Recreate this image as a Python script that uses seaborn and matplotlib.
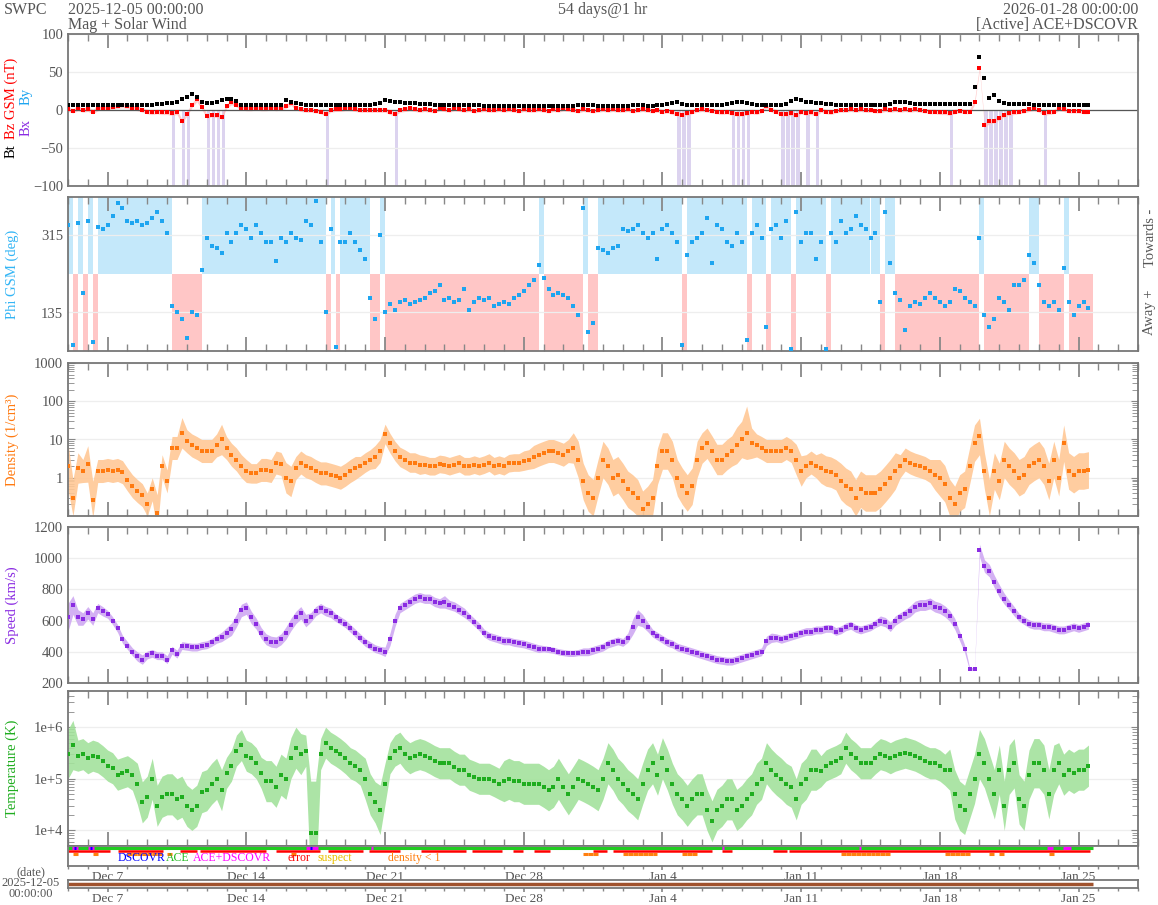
import numpy as np
import pandas as pd
import matplotlib.pyplot as plt
import matplotlib.dates as mdates
from matplotlib.ticker import FuncFormatter, LogLocator, NullFormatter
import seaborn as sns

# values, one every 6 hours from 2025-12-05 00:00
bt = [7, 7, 6, 7, 6, 6, 6, 7,  7, 6, 6, 7, 7, 6, 6, 6,
      7, 7, 8, 8, 9, 9, 10, 14,  17, 21, 17, 11, 9, 9, 11, 13,
      14, 15, 12, 7, 6, 6, 6, 6,  6, 6, 6, 6, 13, 11, 9, 8,
      7, 7, 6, 6, 6, 6, 6, 6,  6, 6, 6, 6, 6, 7, 8, 9,
      13, 12, 11, 10, 9, 9, 9, 8,  8, 8, 7, 7, 7, 7, 7, 6,
      6, 6, 6, 6, 5, 5, 5, 5,  5, 5, 5, 5, 5, 5, 5, 5,
      5, 5, 5, 5, 5, 5, 5, 6,  6, 6, 6, 5, 5, 5, 5, 5,
      5, 5, 6, 6, 6, 5, 5, 6,  7, 8, 9, 10, 8, 7, 6, 6,
      6, 6, 6, 6, 7, 8, 9, 10,  10, 9, 8, 7, 7, 7, 7, 7,
      7, 8, 12, 15, 13, 11, 10, 9,  9, 8, 8, 7, 7, 7, 6, 6,
      6, 6, 6, 6, 6, 7, 8, 10,  11, 10, 9, 8, 8, 8, 8, 8,
      8, 8, 8, 8, 8, 8, 8, 30,  70, 42, 16, 20, 12, 9, 8, 8,
      8, 8, 8, 7, 7, 7, 7, 7,  7, 7, 7, 7, 7, 7, 7]
bz = [1, -1, 2, 0, 1, -2, 2, 3,  3, 4, 5, 6, 5, 3, 2, 0,
      -2, -3, -2, -3, -3, -4, -3, -15,  -5, 6, 14, 4, -8, -6, -7, -9,
      5, 10, 7, 3, 2, 2, 3, 2,  2, 3, 2, 3, 5, 9, 3, 1,
      0, 0, -1, -2, -5, 0, 1, 1,  2, 2, 1, 0, 0, 0, 0, 0,
      0, -3, -5, 0, 1, 2, 1, 0,  1, 0, -1, 2, 1, 0, 2, 1,
      0, 1, -1, 0, 1, 0, 0, 1,  0, 1, 0, -1, 1, 0, 0, 1,
      0, -1, 1, 0, 2, 1, 0, -1,  1, 0, -1, 0, 1, 0, 1, 0,
      0, 1, -1, 0, 1, 0, -1, 0,  -2, -1, -3, -5, -6, -4, -2, 0,
      1, 0, -1, -2, -3, -2, -4, -5,  -5, -4, -2, -3, -1, 5, 0, -2,
      -5, -5, -4, -7, -2, -4, -3, -5,  0, -2, -3, -1, 0, 0, 1, 0,
      1, 0, 0, -1, -1, 1, 0, 1,  0, 1, 0, 1, 0, -1, -2, -2,
      -3, -3, -4, -2, -1, -2, -2, 10,  55, -20, -15, -14, -10, -6, -4, -3,
      -2, -1, 1, 2, 0, -4, -3, -2,  2, 1, -1, -1, -1, -2, -2]
phi = [340, 60, 345, 180, 350, 65, 335, 330,  340, 360, 390, 380, 350, 345, 350, 340,
       345, 355, 370, 350, 320, 150, 135, 120,  75, 135, 130, 235, 310, 290, 285, 275,
       320, 300, 320, 340, 330, 310, 340, 320,  300, 300, 255, 310, 300, 320, 310, 305,
       350, 340, 395, 300, 135, 330, 55, 300,  300, 320, 300, 280, 260, 170, 120, 315,
       135, 155, 140, 160, 165, 155, 160, 165,  170, 180, 185, 200, 165, 170, 160, 165,
       190, 140, 160, 170, 165, 170, 150, 155,  160, 155, 170, 175, 185, 200, 210, 245,
       215, 190, 175, 180, 175, 170, 150, 130,  380, 90, 110, 285, 280, 275, 285, 290,
       330, 325, 330, 340, 320, 310, 320, 260,  330, 340, 320, 300, 60, 270, 300, 310,
       320, 355, 250, 340, 330, 300, 290, 320,  300, 70, 320, 340, 310, 100, 330, 340,
       310, 350, 50, 370, 300, 320, 320, 260,  300, 50, 320, 300, 350, 320, 330, 360,
       340, 330, 310, 320, 160, 370, 250, 180,  165, 95, 150, 160, 155, 170, 180, 170,
       160, 150, 160, 190, 185, 170, 160, 150,  310, 130, 100, 120, 170, 160, 140, 200,
       200, 210, 270, 250, 200, 160, 150, 160,  140, 240, 160, 130, 150, 160, 145]
density = [2.0, 0.3, 1.8, 1.5, 2.3, 0.27, 1.5, 1.5,  1.6, 1.5, 1.6, 1.4, 0.9, 0.6, 0.45, 0.35,
           0.2, 0.5, 0.12, 2.0, 0.8, 6.0, 6.0, 15,  9, 7, 6, 5, 5, 5, 7, 10,
           6, 4, 3, 2, 1.5, 1.3, 1.3, 1.6,  1.6, 1.5, 2.5, 2.3, 1.0, 0.8, 1.8, 2.5,
           2.0, 1.8, 1.5, 1.3, 1.3, 1.2, 1.1, 1.0,  1.2, 1.5, 1.8, 2.0, 2.5, 3.0, 3.5, 5,
           14, 8, 5, 3.5, 3, 2.5, 2.5, 2.2,  2.2, 2.0, 2.0, 2.3, 2.2, 2.0, 2.2, 2.4,
           2.0, 2.0, 2.2, 2.0, 2.2, 2.5, 2.0, 2.2,  2.0, 2.4, 2.5, 2.5, 2.8, 3.0, 3.5, 4,
           4.5, 5, 5, 4.5, 4, 5, 6, 3,  0.8, 0.4, 0.3, 1.0, 3.0, 2.0, 1.0, 1.2,
           0.8, 0.5, 0.4, 0.3, 0.15, 0.2, 0.3, 2.0,  5, 5, 3, 1.0, 0.6, 0.4, 0.6, 3,
           6, 8, 5, 3, 3, 4, 5, 7,  10, 15, 8, 7, 6, 5, 5, 5,
           5, 6, 5, 3, 1.5, 2, 2.5, 2.0,  1.8, 1.5, 1.4, 1.2, 0.8, 0.6, 0.5, 0.3,
           0.5, 0.4, 0.4, 0.4, 0.5, 0.7, 1.0, 1.5,  2.0, 3.0, 2.5, 2.2, 2.0, 1.8, 1.5, 1.2,
           1.0, 0.7, 0.3, 0.2, 0.4, 0.5, 2.0, 8,  12, 1.5, 0.3, 1.5, 0.8, 3, 2, 1.5,
           1.0, 1.2, 2.0, 2.5, 3.0, 2.0, 0.8, 3.0,  1.0, 8, 1.5, 1.2, 1.5, 1.5, 1.6]
dens_spread = [4, 3, 2.5, 2, 3, 3, 2, 2,  2, 2, 2, 2, 2, 2, 2, 2,
               2, 2, 3, 2, 2, 2, 2, 2.5,  2, 2, 2, 2, 2, 2, 2, 2.5,
               2, 2, 2, 2, 2, 1.8, 1.8, 2,  2, 2, 2, 2, 2.5, 2.5, 2, 2,
               2, 2, 2, 2, 2, 2, 2, 2,  2, 2, 2, 1.8, 1.8, 1.8, 2, 2,
               1.8, 1.8, 1.8, 1.8, 1.8, 1.8, 1.8, 1.8,  1.7, 1.7, 1.7, 1.7, 1.7, 1.7, 1.7, 1.7,
               1.7, 1.7, 1.7, 1.7, 1.7, 1.7, 1.7, 1.7,  1.7, 1.7, 1.7, 1.7, 1.8, 1.8, 2, 2,
               2, 2, 2, 2, 2, 2, 2.5, 3,  3, 3, 3, 3, 3, 3, 3, 3,
               3, 3, 3, 3, 3, 3, 3, 3,  3, 3, 3, 3, 3, 3, 3, 3,
               2.5, 2.5, 2.5, 2.5, 2.5, 2.5, 2.5, 3,  3, 5, 2.5, 2, 2, 2, 2, 2,
               2, 2, 2, 2.5, 2.5, 2, 2, 2,  2.5, 2.5, 2.5, 2.5, 3, 3, 3, 3,
               3, 3, 3, 3, 3, 3, 3, 3,  2, 2, 2, 2, 2, 2, 2, 2.5,
               3, 3, 3, 3, 3, 3, 3, 3,  3, 3, 3, 3, 3, 3, 3, 3,
               3, 3, 3, 3, 3, 3, 3, 3,  3, 3, 3, 3, 3, 3, 3]
speed = [620, 700, 620, 610, 650, 610, 680, 660,  640, 600, 550, 480, 440, 400, 370, 350,
         380, 390, 375, 375, 350, 410, 385, 440,  435, 430, 430, 440, 445, 460, 480, 495,
         520, 545, 600, 665, 680, 620, 580, 520,  480, 465, 460, 480, 520, 575, 620, 650,
         600, 620, 660, 680, 660, 650, 620, 600,  580, 550, 520, 490, 460, 440, 420, 410,
         400, 480, 600, 680, 700, 720, 740, 750,  740, 740, 720, 710, 720, 700, 690, 670,
         650, 620, 590, 560, 520, 500, 490, 480,  470, 470, 460, 455, 450, 440, 430, 420,
         420, 415, 410, 400, 395, 390, 390, 395,  400, 400, 410, 420, 430, 450, 460, 470,
         460, 490, 560, 620, 600, 560, 520, 500,  480, 460, 450, 430, 420, 410, 400, 390,
         380, 370, 360, 350, 345, 340, 340, 350,  360, 370, 380, 390, 400, 470, 490, 490,
         480, 490, 500, 510, 520, 530, 530, 540,  540, 550, 550, 530, 540, 560, 570, 550,
         540, 550, 560, 580, 600, 590, 560, 600,  620, 640, 660, 690, 700, 700, 710, 690,
         680, 660, 630, 580, 500, 420, 290, 290,  1050, 950, 920, 850, 790, 740, 700, 660,
         620, 600, 580, 570, 570, 560, 560, 550,  540, 540, 550, 560, 550, 560, 570]
speed_spread = [90, 60, 50, 40, 40, 40, 30, 30,  25, 25, 25, 25, 25, 25, 30, 30,
                25, 25, 25, 25, 25, 25, 25, 25,  25, 25, 25, 25, 25, 25, 25, 30,
                35, 40, 40, 40, 40, 40, 35, 35,  35, 35, 35, 35, 40, 40, 40, 40,
                40, 30, 30, 30, 30, 30, 25, 25,  25, 25, 25, 25, 25, 25, 25, 25,
                30, 40, 40, 30, 30, 30, 30, 30,  30, 30, 30, 30, 40, 30, 30, 30,
                30, 25, 25, 25, 25, 25, 25, 25,  25, 25, 25, 25, 25, 25, 25, 25,
                20, 20, 20, 20, 20, 20, 20, 20,  25, 25, 25, 25, 25, 25, 25, 25,
                25, 30, 50, 50, 40, 30, 25, 25,  25, 25, 25, 25, 25, 25, 25, 25,
                25, 25, 25, 25, 25, 25, 25, 25,  25, 25, 25, 25, 25, 30, 30, 25,
                25, 25, 25, 25, 25, 25, 25, 25,  25, 25, 25, 25, 25, 25, 25, 25,
                25, 25, 25, 25, 30, 30, 30, 30,  30, 30, 35, 35, 35, 35, 35, 35,
                35, 35, 35, 35, 30, 25, 10, 10,  40, 40, 40, 40, 40, 35, 30, 30,
                25, 25, 25, 25, 25, 25, 25, 25,  25, 25, 25, 25, 25, 25, 25]
temp_kK = [300, 450, 280, 300, 250, 280, 260, 220,  180, 160, 120, 130, 140, 120, 80, 35,
           45, 100, 30, 45, 50, 50, 40, 45,  30, 25, 30, 55, 60, 80, 100, 60,
           130, 180, 350, 450, 280, 250, 200, 130,  90, 90, 70, 120, 100, 250, 400, 300,
           350, 9, 9, 300, 500, 400, 350, 300,  250, 200, 180, 150, 100, 50, 35, 25,
           80, 250, 350, 400, 300, 250, 280, 300,  280, 250, 220, 200, 200, 200, 170, 150,
           150, 120, 110, 100, 100, 100, 90, 80,  90, 100, 90, 90, 80, 80, 80, 80,
           70, 60, 70, 100, 70, 50, 70, 100,  90, 80, 70, 60, 100, 200, 150, 100,
           80, 60, 50, 40, 80, 150, 200, 120,  250, 150, 80, 50, 40, 30, 40, 50,
           50, 25, 15, 25, 30, 40, 40, 25,  30, 40, 50, 80, 100, 200, 150, 120,
           100, 80, 70, 40, 80, 100, 150, 150,  140, 180, 200, 220, 250, 400, 300, 250,
           200, 200, 200, 250, 300, 280, 250, 280,  300, 320, 300, 280, 250, 220, 200, 200,
           180, 150, 150, 50, 30, 25, 50, 100,  300, 200, 100, 50, 150, 30, 150, 200,
           40, 30, 120, 200, 200, 150, 50, 150,  200, 120, 150, 130, 150, 150, 180]
temp_spread = [3, 3, 2, 2, 2, 2, 2, 2,  2, 2, 2, 2, 2, 2, 2.5, 2.5,
               2.5, 2.5, 2.5, 2.5, 2.5, 2.5, 2.5, 2.5,  2.5, 2.5, 2.5, 2.5, 2.5, 2.5, 2.5, 2.5,
               2, 2, 2, 2, 2, 2, 2, 2,  2.5, 2.5, 2.5, 2.5, 2.5, 2.5, 2.5, 2.5,
               2, 10, 10, 2, 2, 2, 2, 2,  2, 2, 2, 2, 2.5, 2.5, 2.5, 3,
               2.5, 2, 2, 2, 2, 2, 2, 2,  2, 2, 2, 2, 2, 2, 2, 2,
               2, 2, 2, 2, 2, 2, 2, 2,  2.5, 2.5, 2.5, 2.5, 2.5, 2.5, 2.5, 2.5,
               2.5, 2.5, 2.5, 2.5, 2.5, 2.5, 2.5, 2.5,  2.5, 2.5, 2.5, 2.5, 2.5, 2.5, 2.5, 2.5,
               2.5, 2.5, 2.5, 2.5, 2.5, 2.5, 2.5, 2.5,  2.5, 2.5, 2.5, 2.5, 2.5, 2.5, 2.5, 2.5,
               2.5, 2.5, 2.5, 2.5, 2.5, 2.5, 2.5, 2.5,  2.5, 2.5, 2.5, 2.5, 2.5, 2.5, 2.5, 2.5,
               2.5, 2.5, 2.5, 2.5, 2.5, 2.5, 2.5, 2.5,  2, 2, 2, 2, 2, 2, 2, 2,
               2, 2, 2, 2, 2, 2, 2, 2,  2, 2, 2, 2, 2, 2, 2, 2,
               2, 2, 2.5, 3, 3, 3, 3, 3,  3, 3, 3, 3, 3, 3, 3, 3,
               3, 3, 3, 3, 3, 3, 3, 3,  2.5, 2.5, 2.5, 2.5, 2.5, 2.5, 2.5]

# data-quality flags, as (start day, end day) after 2025-12-05
error_days = [(0, 2.1), (2.5, 4.8), (5.65, 6.5), (6.66, 10.0), (10.5, 12.7), (13.1, 14.9),
              (15.2, 16.75), (17.8, 20.1), (20.4, 21.9), (22.45, 22.96), (23.5, 24.3),
              (26.5, 27.2), (27.5, 32.5), (33.0, 33.5), (35.6, 36.3), (36.4, 51.6)]
both_src_days = [(0.2, 0.5), (1.0, 1.3), (12.0, 12.6), (15.3, 15.4), (33.0, 33.1),
                 (39.9, 40.0), (49.4, 49.7), (50.2, 50.6)]
dscovr_days = [(0.3, 0.4), (1.1, 1.2), (12.2, 12.3)]

sns.set_style("white")
plt.rcParams["font.family"] = ["Liberation Serif", "DejaVu Serif"]

W, H = 1158, 905
fig = plt.figure(figsize=(W / 100, H / 100), dpi=100)
GRAY = "#555555"

start = pd.Timestamp("2025-12-05")
end = pd.Timestamp("2026-01-28")
x0, x1 = mdates.date2num(start), mdates.date2num(end)
t = mdates.date2num(pd.date_range(start, periods=len(speed), freq="6h"))
dt = 0.25
weeks = mdates.date2num(pd.date_range("2025-12-07", "2026-01-25", freq="7D"))


def box(top, bottom):
    return [68 / W, 1 - bottom / H, (1138 - 68) / W, (bottom - top) / H]


def day_fmt(v, pos):
    d = mdates.num2date(v)
    return f"{d:%b} {d.day}"


def time_axis(ax, labels=False):
    ax.set_xlim(x0, x1)
    ax.set_xticks(weeks)
    ax.xaxis.set_minor_locator(mdates.DayLocator())
    for s in ax.spines.values():
        s.set_color("#777777")
        s.set_linewidth(1.3)
    if labels:
        ax.xaxis.set_major_formatter(FuncFormatter(day_fmt))
        ax.tick_params(axis="x", which="both", direction="out", bottom=True, top=False,
                       color="#888888", labelsize=9.5, labelcolor=GRAY, pad=0.5)
        ax.tick_params(axis="x", which="major", length=3, width=1.2)
        ax.tick_params(axis="x", which="minor", length=2, width=1)
    else:
        ax.tick_params(axis="x", which="both", direction="in", top=True, bottom=True,
                       labelbottom=False, color="#888888")
        ax.tick_params(axis="x", which="major", length=10, width=1.3)
        ax.tick_params(axis="x", which="minor", length=5, width=1)
    ax.set_xlabel("")
    ax.set_ylabel("")


def y_style(ax, log=False):
    ax.tick_params(axis="y", which="major", length=5 if log else 0, direction="in",
                   left=True, right=log, labelsize=10.5, labelcolor=GRAY, color="#888888")
    if log:
        ax.yaxis.set_minor_locator(LogLocator(base=10, subs=range(2, 10), numticks=20))
        ax.yaxis.set_minor_formatter(NullFormatter())
        ax.tick_params(axis="y", which="minor", length=4, direction="in",
                       left=True, right=True, color="#888888")
    ax.yaxis.grid(True, which="major", color="#eeeeee", lw=0.9)
    ax.set_axisbelow(True)


def dots(ax, y, color):
    sns.scatterplot(x=t, y=y, ax=ax, color=color, marker="s", s=6, linewidth=0,
                    legend=False, zorder=3)


# --- Mag panel ---
ax = fig.add_axes(box(34, 186))
bz_a = np.array(bz, dtype=float)
south = bz_a <= -4
ax.bar(t[south], -100, bottom=0, width=dt * 0.7, align="edge", color="#dcd3ef",
       lw=0, zorder=0)
ax.fill_between(t, bz_a - 3, bz_a + 3, color="#ffb8b8", lw=0, alpha=0.7, zorder=1)
ax.axhline(0, color="#555555", lw=0.9, zorder=2)
dots(ax, bz_a, "#ff0000")
dots(ax, bt, "#000000")
ax.set_ylim(-100, 100)
ax.set_yticks([-100, -50, 0, 50, 100])
y_style(ax)
time_axis(ax)

# --- Phi panel ---
ax = fig.add_axes(box(197, 351))
phi_a = np.array(phi, dtype=float)
tow = phi_a >= 225
ax.bar(t[tow], 180, bottom=225, width=dt, align="edge", color="#c4e8fa", lw=0, zorder=0)
ax.bar(t[~tow], 180, bottom=45, width=dt, align="edge", color="#ffc6c6", lw=0, zorder=0)
dots(ax, phi_a, "#1ea5f0")
ax.set_ylim(45, 405)
ax.set_yticks([135, 315])
y_style(ax)
time_axis(ax)
fig.text(1150 / W, 1 - 238 / H, "Towards -", rotation=90, ha="center", va="center",
         color=GRAY, fontsize=10.5)
fig.text(1150 / W, 1 - 312 / H, "Away +", rotation=90, ha="center", va="center",
         color=GRAY, fontsize=10.5)

# --- Density panel ---
ax = fig.add_axes(box(363, 516))
ax.set_yscale("log")
dens_a = np.array(density)
ds = np.array(dens_spread)
ax.fill_between(t, dens_a / ds, dens_a * ds, color="#ffc896", lw=0, alpha=0.9, zorder=1)
dots(ax, dens_a, "#ff7a10")
ax.set_ylim(0.1, 1000)
ax.set_yticks([1, 10, 100, 1000], labels=["1", "10", "100", "1000"])
y_style(ax, log=True)
time_axis(ax)

# --- Speed panel ---
ax = fig.add_axes(box(527, 683))
sp_a = np.array(speed, dtype=float)
ss = np.array(speed_spread)
ax.fill_between(t, sp_a - ss, sp_a + ss, color="#cfa9f2", lw=0, alpha=0.9, zorder=1)
dots(ax, sp_a, "#8a2be2")
ax.set_ylim(200, 1200)
ax.set_yticks(range(200, 1201, 200))
y_style(ax)
time_axis(ax)

# --- Temperature panel ---
ax = fig.add_axes(box(691, 846))
ax.set_yscale("log")
temp_a = np.array(temp_kK) * 1e3
ts = np.array(temp_spread)
ax.fill_between(t, temp_a / ts, temp_a * ts, color="#a3e29c", lw=0, alpha=0.9, zorder=1)
dots(ax, temp_a, "#1fad1f")
ax.set_ylim(5e3, 5e6)
ax.set_yticks([1e4, 1e5, 1e6], labels=["1e+4", "1e+5", "1e+6"])
y_style(ax, log=True)
time_axis(ax)

# --- source / quality strip ---
ax = fig.add_axes(box(846, 866))
ax.set_ylim(0, 1)
ax.set_yticks([])
t_end = t[-1] + dt
ax.hlines(0.88, t[0], t_end, color="#22cc22", lw=2.2)
for a, b in both_src_days:
    ax.hlines(0.88, x0 + a, x0 + b, color="#ff00ff", lw=2.2)
for a, b in dscovr_days:
    ax.hlines(0.88, x0 + a, x0 + b, color="#0000ff", lw=2.2)
for a, b in error_days:
    ax.hlines(0.74, x0 + a, x0 + b, color="#ff0000", lw=1.8)
for ti, d in zip(t, density):
    if d < 1:
        ax.hlines(0.6, ti, ti + dt, color="#ff7f0e", lw=2.2)
legend_items = [("DSCOVR", "#0000ff", 118), ("ACE", "#22bb22", 166),
                ("ACE+DSCOVR", "#ff00ff", 193), ("error", "#ff0000", 288),
                ("suspect", "#e8c000", 318), ("density < 1", "#ff7f0e", 388)]
for txt, c, px in legend_items:
    ax.text((px - 68) / 1070, 0.42, txt, color=c, fontsize=8.5, ha="left", va="center",
            transform=ax.transAxes)
time_axis(ax, labels=True)

# --- date strip ---
ax = fig.add_axes(box(880, 888))
ax.set_ylim(0, 1)
ax.set_yticks([])
ax.hlines(0.5, t[0], t_end, color="#a0522d", lw=2.5)
time_axis(ax, labels=True)

# --- axis labels ---
lab = dict(rotation=90, ha="center", va="center", fontsize=10.5)
fig.text(11 / W, 1 - 151 / H, "Bt", color="black", **lab)
fig.text(11 / W, 1 - 98 / H, "Bz GSM (nT)", color="#ff0000", **lab)
fig.text(26 / W, 1 - 127 / H, "Bx", color="#8a2be2", **lab)
fig.text(26 / W, 1 - 96 / H, "By", color="#1ea5f0", **lab)
fig.text(12 / W, 1 - 274 / H, "Phi GSM (deg)", color="#33b5f5", **lab)
fig.text(12 / W, 1 - 440 / H, "Density (1/cm\u00b3)", color="#ff7a10", **lab)
fig.text(12 / W, 1 - 605 / H, "Speed (km/s)", color="#8a2be2", **lab)
fig.text(12 / W, 1 - 768 / H, "Temperature (K)", color="#1fad1f", **lab)

# --- header ---
hdr = dict(color=GRAY, fontsize=11.5, va="center")
fig.text(4 / W, 1 - 10 / H, "SWPC", ha="left", **hdr)
fig.text(68 / W, 1 - 10 / H, "2025-12-05 00:00:00", ha="left", **hdr)
fig.text(68 / W, 1 - 25 / H, "Mag + Solar Wind", ha="left", **hdr)
fig.text(603 / W, 1 - 10 / H, "54 days@1 hr", ha="center", **hdr)
fig.text(1138 / W, 1 - 10 / H, "2026-01-28 00:00:00", ha="right", **hdr)
fig.text(1138 / W, 1 - 25 / H, "[Active] ACE+DSCOVR", ha="right", **hdr)

foot = dict(ha="center", va="center", color=GRAY, fontsize=9)
fig.text(31 / W, 1 - 872 / H, "(date)", **foot)
fig.text(31 / W, 1 - 883 / H, "2025-12-05", **foot)
fig.text(31 / W, 1 - 894 / H, "00:00:00", **foot)

fig.savefig("out.png", dpi=100)
